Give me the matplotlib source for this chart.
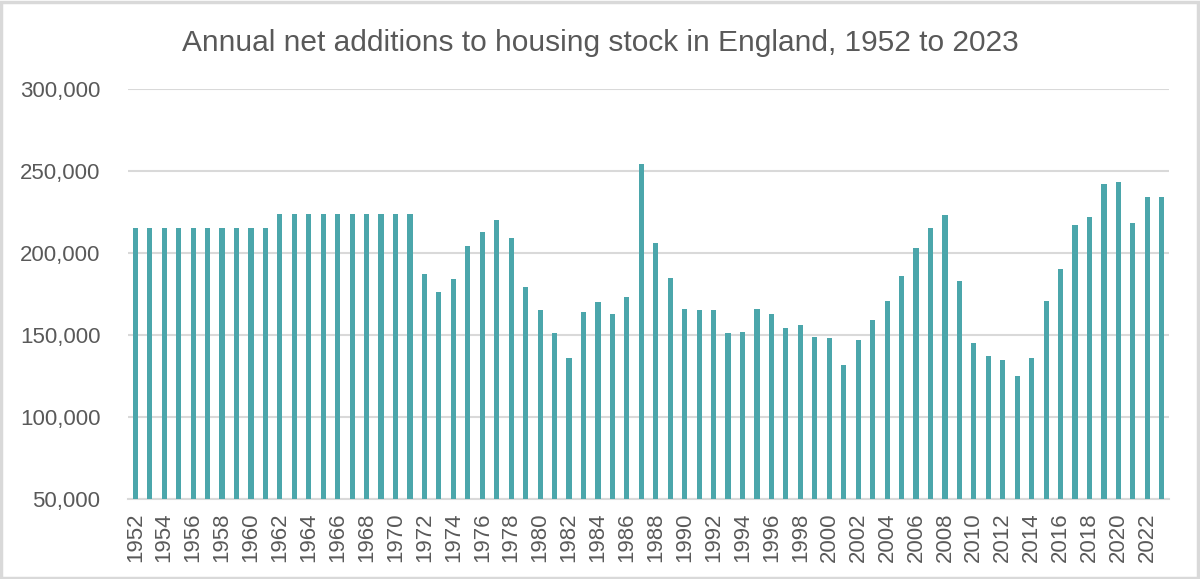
import matplotlib
matplotlib.use("Agg")
import matplotlib.pyplot as plt
from matplotlib.patches import Rectangle
from matplotlib.ticker import FuncFormatter

years = list(range(1952, 2024))
net_additions = [
    215000, 215000, 215000, 215000, 215000, 215000, 215000, 215000, 215000, 215000,  # 1952-1961
    224000, 224000, 224000, 224000, 224000, 224000, 224000, 224000, 224000, 224000,  # 1962-1971
    187000, 176000, 184000, 204000, 213000, 220000, 209000, 179000,                  # 1972-1979
    165000, 151000, 136000, 164000, 170000, 163000, 173000, 254000, 206000, 185000,  # 1980-1989
    166000, 165000, 165000, 151000, 152000, 166000, 163000, 154000, 156000, 149000,  # 1990-1999
    148000, 132000, 147000, 159000, 171000, 186000, 203000, 215000, 223000, 183000,  # 2000-2009
    145000, 137000, 135000, 125000, 136000, 171000, 190000, 217000, 222000, 242000,  # 2010-2019
    243000, 218000, 234000, 234000,                                                  # 2020-2023
]
tick_labels = [str(y) if (y - 1952) % 2 == 0 else "" for y in years]
title = "Annual net additions to housing stock in England, 1952 to 2023"

plt.rcParams['font.family'] = ['Liberation Sans', 'DejaVu Sans']
text_color = "#595959"
grid_color = "#D9D9D9"
bar_color = "#4BA6AB"

fig = plt.figure(figsize=(12, 5.79), dpi=100)
ax = fig.add_axes([0.1067, 0.1382, 0.8675, 0.7081])

x = list(range(len(years)))
ax.bar(x, net_additions, width=0.36, color=bar_color, zorder=3)

ax.set_ylim(50000, 300000)
ax.set_yticks([50000, 100000, 150000, 200000, 250000, 300000])
ax.yaxis.set_major_formatter(FuncFormatter(lambda v, p: f"{int(v):,}"))
ax.set_xlim(-0.5, len(years) - 0.5)
ax.set_xticks(x)
ax.set_xticklabels(tick_labels, rotation=90)

ax.grid(axis='y', color=grid_color, linewidth=1.5, zorder=0)
for s in ['top', 'right', 'left']:
    ax.spines[s].set_visible(False)
ax.spines['bottom'].set_color(grid_color)
ax.spines['bottom'].set_linewidth(1.5)
ax.tick_params(axis='both', length=0, labelsize=16, colors=text_color)
ax.tick_params(axis='y', pad=20)
ax.tick_params(axis='x', pad=10)

fig.text(0.5, 0.925, title, ha='center', va='center', fontsize=21.5, color=text_color)

fig.patches.append(Rectangle((0.001, 0.002), 0.997, 0.995, transform=fig.transFigure,
                             fill=False, edgecolor="#D9D9D9", linewidth=2.5))

fig.savefig("out.png", dpi=100, facecolor="white")
